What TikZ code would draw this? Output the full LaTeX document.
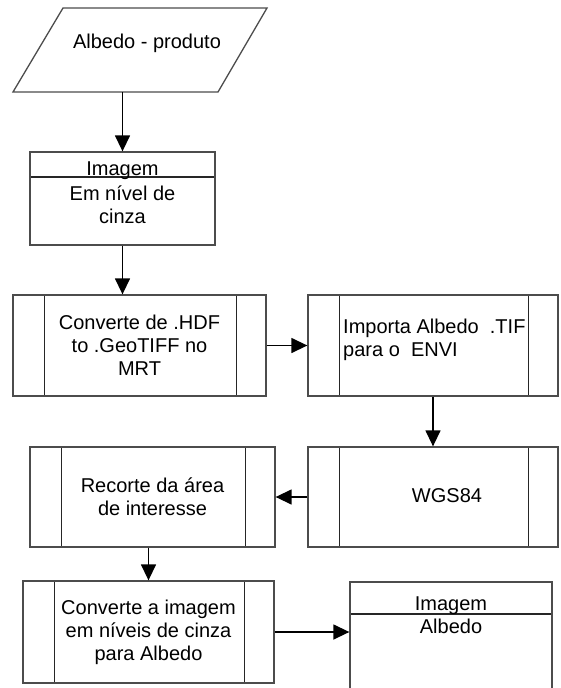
\documentclass[tikz,border=0pt]{standalone}
\usepackage{fontspec}
\setmainfont{Liberation Sans}
\usetikzlibrary{arrows.meta}

\tikzset{
  box/.style={draw=black!70, line width=1.3pt, rectangle, inner sep=0pt,
    align=center, font=\fontsize{20}{23}\selectfont},
  process/.style={box, path picture={
    \draw[black!85, line width=1pt]
      ([xshift=31pt]path picture bounding box.north west) --
      ([xshift=31pt]path picture bounding box.south west);
    \draw[black!85, line width=1pt]
      ([xshift=-30pt]path picture bounding box.north east) --
      ([xshift=-30pt]path picture bounding box.south east);}},
  header/.style={box, path picture={
    \draw[black!85, line width=1.3pt]
      ([yshift=-#1]path picture bounding box.north west) --
      ([yshift=-#1]path picture bounding box.north east);}},
  txt/.style={inner sep=0pt, font=\fontsize{20}{23}\selectfont},
  arr/.style={-{Triangle[length=16pt,width=15pt]}, line width=1.4pt}
}

\begin{document}
\begin{tikzpicture}[x=1pt, y=-1pt]

% --- Page frame ---
\useasboundingbox (0,0) rectangle (560,688);
\clip (0,0) rectangle (560,688);

% --- Input (parallelogram) ---
\draw[draw=black!70, line width=1.3pt, line join=miter]
  (63,8) -- (267,8) -- (218,92) -- (13,92) -- cycle;
\node[txt] (input) at (147,43) {Albedo - produto};
\coordinate (inputout) at (122.5,92);

% --- Grey-level image ---
\node[header=25pt, minimum width=185pt, minimum height=93pt] (cinza) at (122.5,198.5) {};
\node[txt, anchor=base] (cinzahd) at (122.5,175) {Imagem};
\node[txt, anchor=base] (cinzal1) at (122.5,200) {Em nível de};
\node[txt, anchor=base] (cinzal2) at (122.5,223) {cinza};

% --- Processes ---
\node[process, minimum width=253pt, minimum height=101pt] (hdf) at (139.5,345.5)
  {Converte de .HDF\\to .GeoTIFF no\\MRT};
\node[process, minimum width=250pt, minimum height=101pt] (tif) at (433,345.5) {};
\node[txt, anchor=west, align=left] (tiftxt) at (343,340)
  {Importa Albedo \ .TIF\\para o \ ENVI};
\node[process, minimum width=250pt, minimum height=100pt] (wgs) at (433,497) {};
\node[txt] (wgstxt) at (447,496) {WGS84};
\node[process, minimum width=245pt, minimum height=100pt] (recorte) at (152.5,497)
  {Recorte da área\\de interesse};
\node[process, minimum width=251pt, minimum height=102pt] (conv) at (148.5,632)
  {Converte a imagem\\em níveis de cinza\\para Albedo};

% --- Albedo image (runs past the bottom) ---
\node[header=32pt, minimum width=202pt, minimum height=130pt] (alb) at (451,647) {};
\node[txt, anchor=base] (albhd) at (451,610) {Imagem};
\node[txt, anchor=base] (albl1) at (451,633) {Albedo};

% --- Connectors ---
\draw[arr] (inputout) -- (cinza.north);
\draw[arr] (cinza.south) -- (cinza.south |- hdf.north);
\draw[arr] (hdf.east) -- (tif.west);
\draw[arr] (tif.south) -- (wgs.north);
\draw[arr] (wgs.west) -- (recorte.east);
\draw[arr] (recorte.south -| conv.north) -- (conv.north);
\draw[arr] (conv.east) -- (conv.east -| alb.west);

\end{tikzpicture}
\end{document}
